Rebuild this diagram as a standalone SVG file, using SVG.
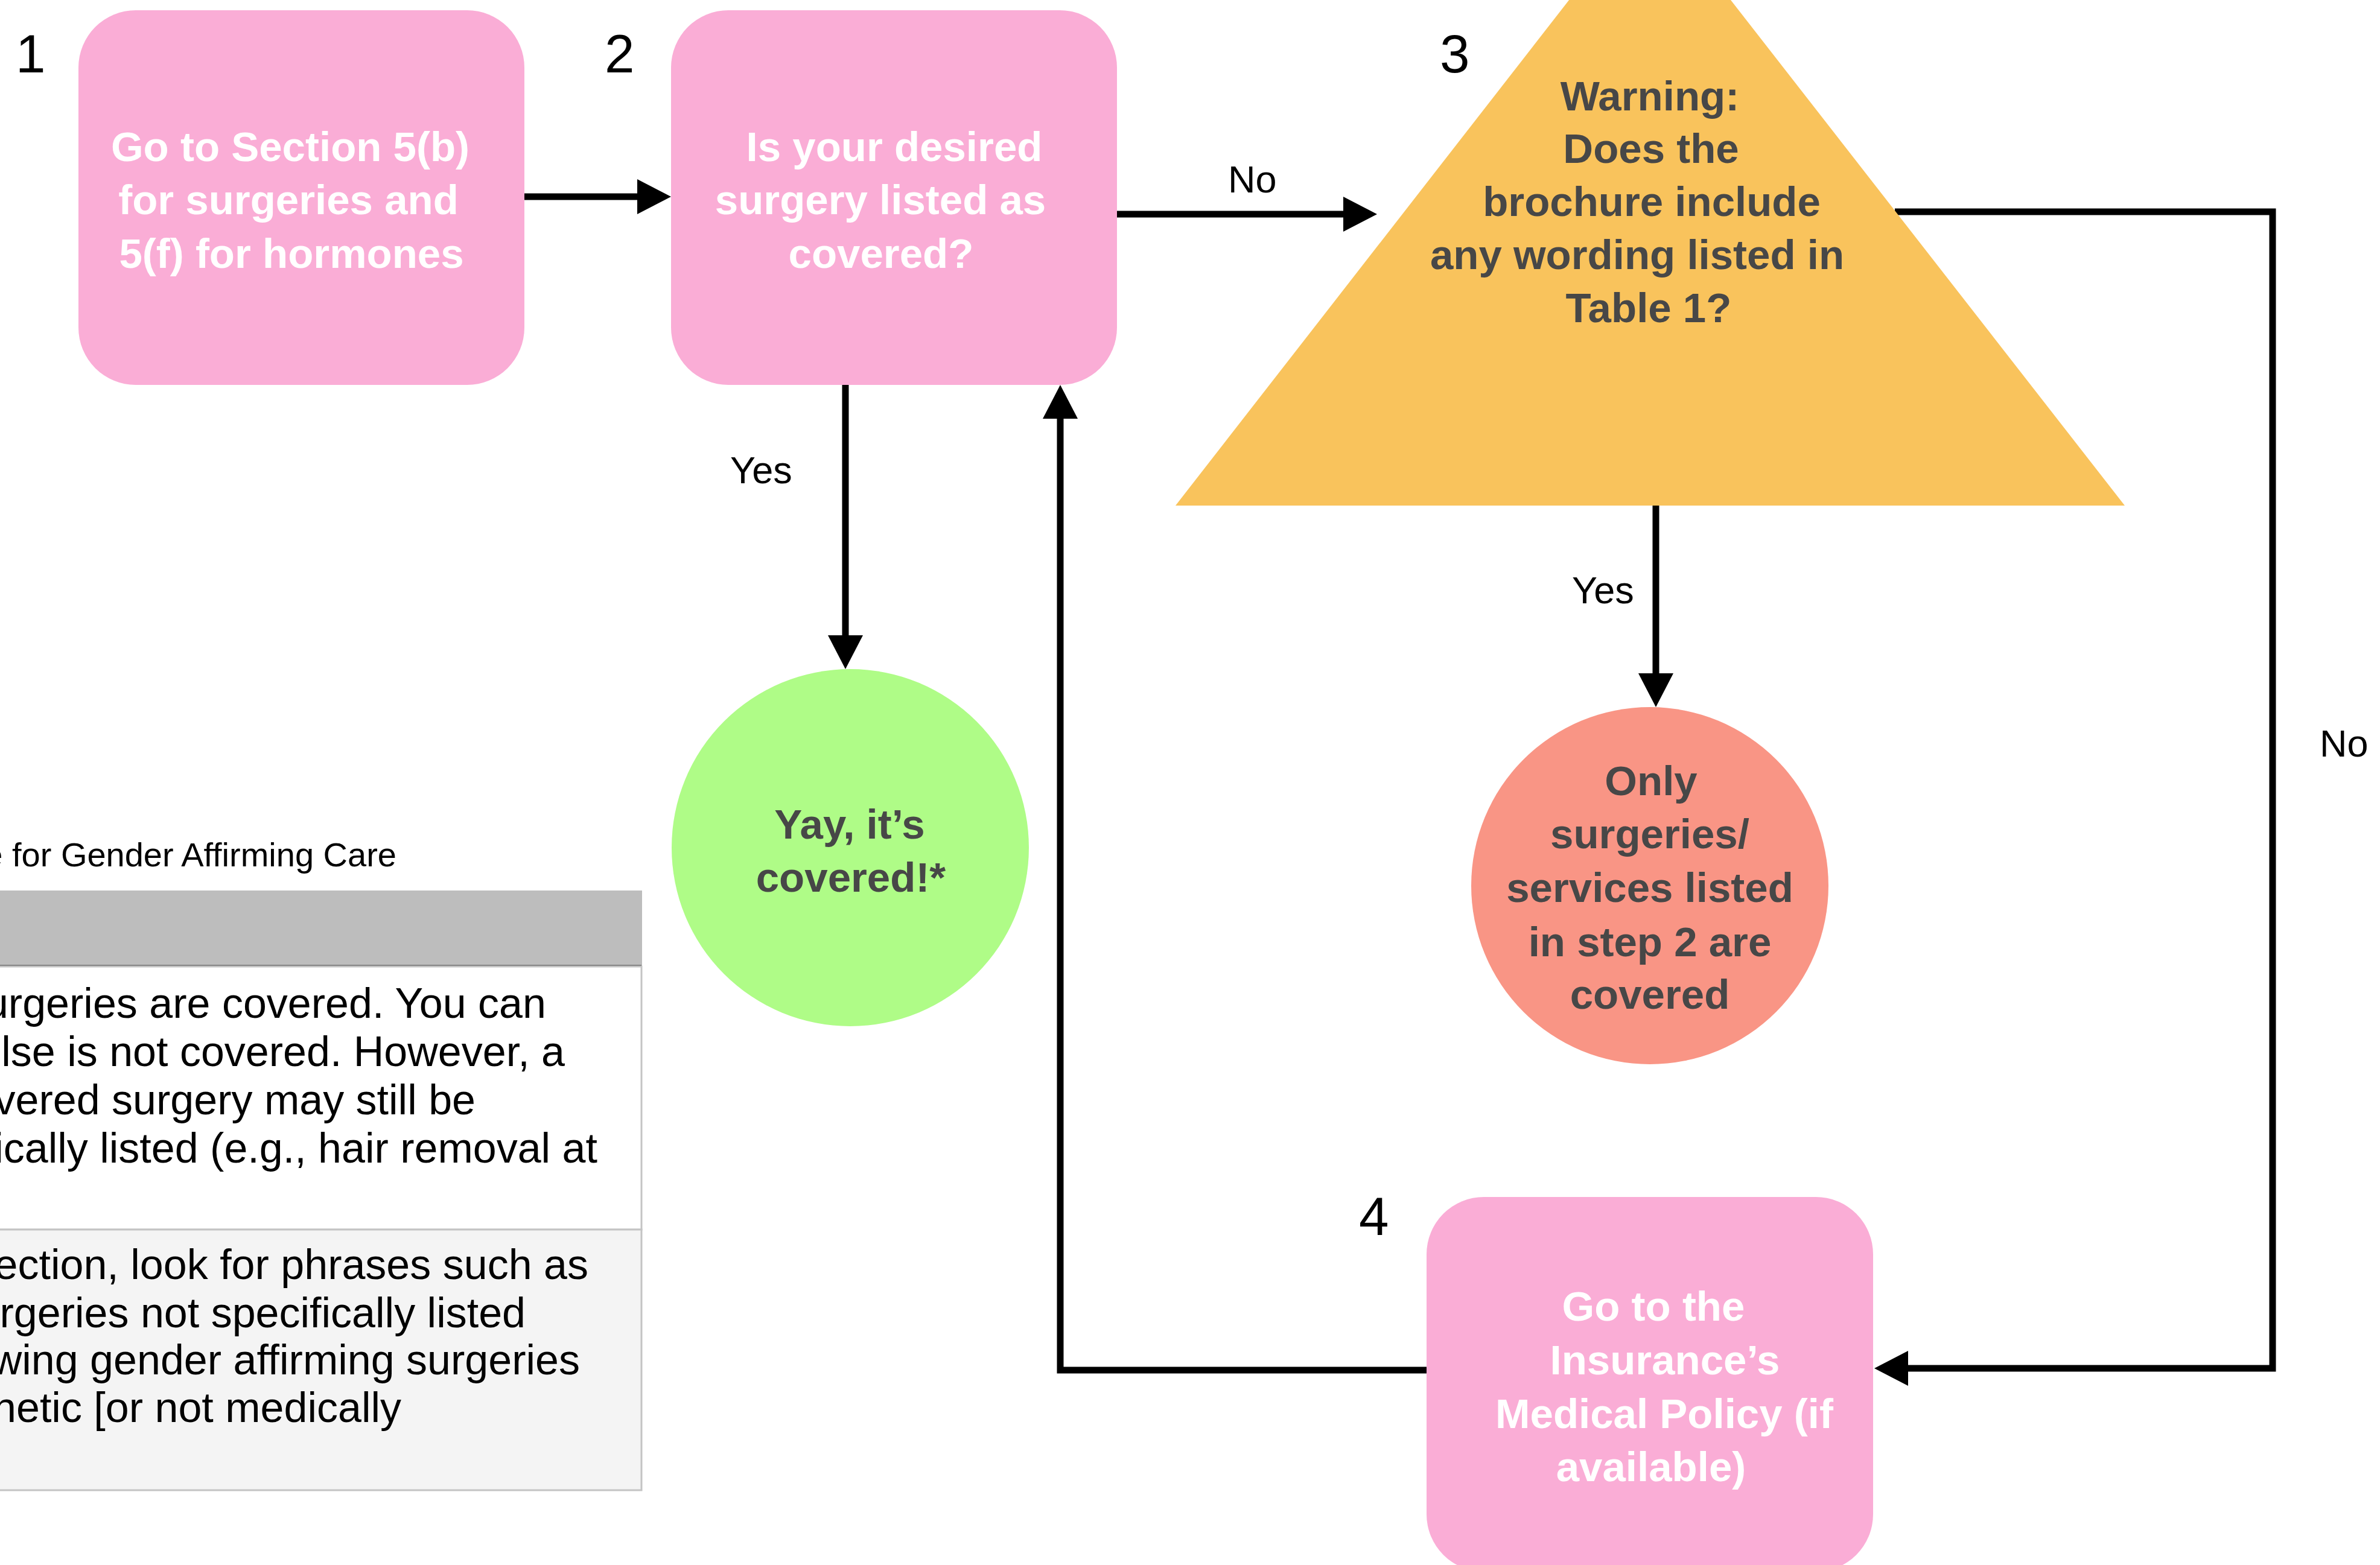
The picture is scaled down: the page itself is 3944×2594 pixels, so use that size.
<svg xmlns="http://www.w3.org/2000/svg" width="3944" height="2594" viewBox="0 0 3944 2594">
<style>
.node-t{font-family:"Liberation Sans",Arial,Helvetica,sans-serif;font-weight:bold;font-size:69px;text-anchor:middle}
.w{fill:#ffffff}
.d{fill:#474747}
.lbl{font-family:"Liberation Sans",Arial,Helvetica,sans-serif;font-size:63px;fill:#000}
.num{font-family:"Liberation Sans",Arial,Helvetica,sans-serif;font-size:89px;fill:#000}
.tbl{font-family:"Liberation Sans",Arial,Helvetica,sans-serif;font-size:70px;fill:#000;text-anchor:end}
.pink{fill:#FAADD6}
.conn{fill:none;stroke:#000;stroke-width:11}
</style>
<defs>
<marker id="ah" markerUnits="userSpaceOnUse" markerWidth="56" markerHeight="58" refX="0" refY="29" orient="auto">
<path d="M0,0 L56,29 L0,58 z" fill="#000"/>
</marker>
</defs>
<rect x="0" y="0" width="3944" height="2594" fill="#fff"/>

<g id="table">
<text x="657" y="1436" style="font-family:'Liberation Sans',Arial,sans-serif;font-size:56px;text-anchor:end" fill="#000">e for Gender Affirming Care</text>
<rect x="-10" y="1477" width="1073" height="123" fill="#BDBDBD" stroke="#BDBDBD" stroke-width="2"/>
<line x1="-10" y1="1601" x2="1063" y2="1601" stroke="#4a4a4a" stroke-width="3"/>
<rect x="-10" y="1602" width="1073" height="436" fill="#fff" stroke="#C4C4C4" stroke-width="3"/>
<rect x="-10" y="2038" width="1073" height="432" fill="#F4F4F4" stroke="#C4C4C4" stroke-width="3"/>
<text class="tbl" x="905" y="1687">urgeries are covered. You can</text>
<text class="tbl" x="936" y="1767">else is not covered. However, a</text>
<text class="tbl" x="788" y="1847">vered surgery may still be</text>
<text class="tbl" x="990" y="1927">ically listed (e.g., hair removal at</text>
<text class="tbl" x="975" y="2120">ection, look for phrases such as</text>
<text class="tbl" x="871" y="2200">rgeries not specifically listed</text>
<text class="tbl" x="961" y="2278">wing gender affirming surgeries</text>
<text class="tbl" x="665" y="2357">netic [or not medically</text>
</g>

<g id="connectors">
<path class="conn" d="M869 326 H1056" marker-end="url(#ah)"/>
<path class="conn" d="M1851 355 H2226" marker-end="url(#ah)"/>
<path class="conn" d="M1401 636 V1053" marker-end="url(#ah)"/>
<path class="conn" d="M2364 2271 H1757 V694" marker-end="url(#ah)"/>
<path class="conn" d="M2744 838 V1116" marker-end="url(#ah)"/>
<path class="conn" d="M3140 351 H3766 V2268 H3162" marker-end="url(#ah)"/>
<text class="lbl" x="1210" y="801">Yes</text>
<text class="lbl" x="2035" y="319">No</text>
<text class="lbl" x="2605" y="1000">Yes</text>
<text class="lbl" x="3844" y="1254">No</text>
</g>

<g id="node1">
<text class="num" x="26" y="120">1</text>
<rect class="pink" x="130" y="17" width="739" height="621" rx="95" ry="95"/>
<text class="node-t w"><tspan x="481" y="267">Go to Section 5(b)</tspan><tspan x="478" y="355">for surgeries and</tspan><tspan x="483" y="444">5(f) for hormones</tspan></text>
</g>

<g id="node2">
<text class="num" x="1002" y="120">2</text>
<rect class="pink" x="1112" y="17" width="739" height="621" rx="95" ry="95"/>
<text class="node-t w"><tspan x="1482" y="267">Is your desired</tspan><tspan x="1459" y="355">surgery listed as</tspan><tspan x="1460" y="444">covered?</tspan></text>
</g>

<g id="node3">
<polygon points="2734,-172 3521,838 1948,838" fill="#F9C35C"/>
<text class="num" x="2386" y="120">3</text>
<text class="node-t d"><tspan x="2734" y="183">Warning:</tspan><tspan x="2736" y="270">Does the</tspan><tspan x="2737" y="358">brochure include</tspan><tspan x="2713" y="446">any wording listed in</tspan><tspan x="2732" y="534">Table 1?</tspan></text>
</g>

<g id="node-covered">
<circle cx="1409" cy="1405" r="296" fill="#AFFC87"/>
<text class="node-t d"><tspan x="1408" y="1390">Yay, it’s</tspan><tspan x="1410" y="1478">covered!*</tspan></text>
</g>

<g id="node-only">
<circle cx="2734" cy="1468" r="296" fill="#F99585"/>
<text class="node-t d"><tspan x="2736" y="1318">Only</tspan><tspan x="2734" y="1406">surgeries/</tspan><tspan x="2734" y="1495">services listed</tspan><tspan x="2734" y="1585">in step 2 are</tspan><tspan x="2734" y="1672">covered</tspan></text>
</g>

<g id="node4">
<text class="num" x="2252" y="2047">4</text>
<rect class="pink" x="2364" y="1984" width="740" height="621" rx="95" ry="95"/>
<text class="node-t w"><tspan x="2740" y="2189">Go to the</tspan><tspan x="2759" y="2278">Insurance’s</tspan><tspan x="2758" y="2367">Medical Policy (if</tspan><tspan x="2736" y="2455">available)</tspan></text>
</g>
</svg>
